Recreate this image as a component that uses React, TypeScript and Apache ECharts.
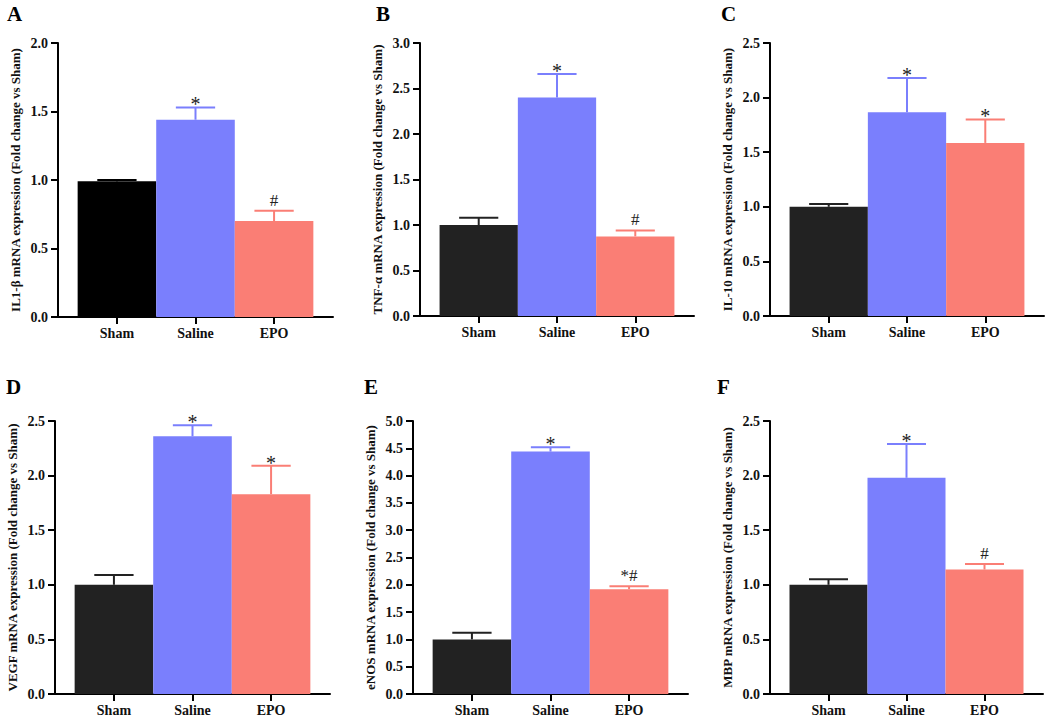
import { useEffect, useRef } from 'react';
import * as echarts from 'echarts';

// ---------- data ----------
const categories = ['Sham', 'Saline', 'EPO'];
const panelLetters = ['A', 'B', 'C', 'D', 'E', 'F'];
const yNames = [
  'IL1-β mRNA expression (Fold change vs Sham)',
  'TNF-α mRNA expression (Fold change vs Sham)',
  'IL-10 mRNA expression (Fold change vs Sham)',
  'VEGF mRNA expression (Fold change vs Sham)',
  'eNOS mRNA expression (Fold change vs Sham)',
  'MBP mRNA expression (Fold change vs Sham)',
];
const yMax = [2.0, 3.0, 2.5, 2.5, 5.0, 2.5];

const il1bMeans = [0.99, 1.44, 0.70];
const il1bErrs = [0.01, 0.09, 0.075];
const tnfMeans = [1.0, 2.4, 0.875];
const tnfErrs = [0.08, 0.26, 0.065];
const il10Means = [1.0, 1.865, 1.585];
const il10Errs = [0.025, 0.315, 0.215];
const vegfMeans = [1.0, 2.36, 1.83];
const vegfErrs = [0.09, 0.1, 0.26];
const enosMeans = [1.0, 4.44, 1.92];
const enosErrs = [0.12, 0.08, 0.055];
const mbpMeans = [1.0, 1.98, 1.14];
const mbpErrs = [0.05, 0.31, 0.05];

const il1bMarks = ['', '*', '#'];
const tnfMarks = ['', '*', '#'];
const il10Marks = ['', '*', '*'];
const vegfMarks = ['', '*', '*'];
const enosMarks = ['', '*', '*#'];
const mbpMarks = ['', '*', '#'];

const allMeans = [il1bMeans, tnfMeans, il10Means, vegfMeans, enosMeans, mbpMeans];
const allErrs = [il1bErrs, tnfErrs, il10Errs, vegfErrs, enosErrs, mbpErrs];
const allMarks = [il1bMarks, tnfMarks, il10Marks, vegfMarks, enosMarks, mbpMarks];

// ---------- layout / style ----------
const FONT = "'Liberation Serif', 'Times New Roman', serif";
const grids = [
  { left: 58, top: 43, width: 275, height: 274 },
  { left: 420, top: 43, width: 274, height: 273 },
  { left: 770, top: 43, width: 274, height: 273 },
  { left: 55, top: 421, width: 275, height: 273 },
  { left: 413, top: 421, width: 275, height: 273 },
  { left: 770, top: 421, width: 273, height: 273 },
];
const letterPos = [
  [7, 3], [376, 3], [721, 3],
  [6, 376], [364, 376], [717, 376],
];
const SALINE = '#7A7FFD';
const EPO = '#FA7E75';
const shamColors = ['#000000', '#222222', '#222222', '#222222', '#222222', '#222222'];

function buildOption() {
  const grid: any[] = [];
  const xAxis: any[] = [];
  const yAxis: any[] = [];
  const series: any[] = [];
  const graphic: any[] = [];

  for (let i = 0; i < 6; i++) {
    const g = grids[i];
    const colors = [shamColors[i], SALINE, EPO];
    grid.push({ left: g.left, top: g.top, width: g.width, height: g.height });
    xAxis.push({
      gridIndex: i,
      type: 'value',
      min: -0.75,
      max: 2.75,
      splitLine: { show: false },
      axisLine: { show: true, onZero: false, lineStyle: { color: '#000', width: 2 } },
      axisTick: { show: true, customValues: [0, 1, 2], length: 7, lineStyle: { color: '#000', width: 2 } },
      axisLabel: {
        customValues: [0, 1, 2],
        formatter: (v: number) => categories[Math.round(v)] ?? '',
        margin: 9,
        fontFamily: FONT,
        fontWeight: 'bold',
        fontSize: 14,
        color: '#111',
      },
    });
    yAxis.push({
      gridIndex: i,
      type: 'value',
      min: 0,
      max: yMax[i],
      interval: 0.5,
      splitLine: { show: false },
      axisLine: { show: true, onZero: false, lineStyle: { color: '#000', width: 2 } },
      axisTick: { show: true, length: 7, lineStyle: { color: '#000', width: 2 } },
      axisLabel: {
        formatter: (v: number) => v.toFixed(1),
        margin: 10,
        fontFamily: FONT,
        fontWeight: 'bold',
        fontSize: 14,
        color: '#111',
      },
      name: yNames[i],
      nameLocation: 'middle',
      nameGap: 36,
      nameTextStyle: { fontFamily: FONT, fontWeight: 'bold', fontSize: 13, color: '#111' },
    });
    const means = allMeans[i];
    const errs = allErrs[i];
    const marks = allMarks[i];
    series.push({
      type: 'bar',
      xAxisIndex: i,
      yAxisIndex: i,
      barWidth: g.width / 3.5,
      data: means.map((m, j) => ({ value: [j, m], itemStyle: { color: colors[j] } })),
      z: 2,
    });
    series.push({
      type: 'custom',
      xAxisIndex: i,
      yAxisIndex: i,
      z: 3,
      data: means.map((m, j) => [j, m, errs[j]]),
      renderItem: (params: any, api: any) => {
        const j = params.dataIndex;
        const x = api.value(0);
        const m = api.value(1);
        const e = api.value(2);
        const base = api.coord([x, m]);
        const top = api.coord([x, m + e]);
        const half = api.size([0.25, 0])[0];
        const c = colors[j];
        const mk = marks[j];
        const children: any[] = [
          { type: 'line', shape: { x1: base[0], y1: base[1], x2: top[0], y2: top[1] }, style: { stroke: c, lineWidth: 2 } },
          { type: 'line', shape: { x1: top[0] - half, y1: top[1], x2: top[0] + half, y2: top[1] }, style: { stroke: c, lineWidth: 2 } },
        ];
        if (mk) {
          const isStar = mk === '*';
          children.push({
            type: 'text',
            x: top[0],
            y: top[1] + (isStar ? 7 : -2),
            style: {
              text: mk,
              fill: '#222',
              fontFamily: FONT,
              fontSize: isStar ? 20 : 17,
              align: 'center',
              verticalAlign: 'bottom',
            },
          });
        }
        return { type: 'group', children };
      },
    });
    graphic.push({
      type: 'text',
      left: letterPos[i][0],
      top: letterPos[i][1],
      style: { text: panelLetters[i], fill: '#000', font: `bold 21px ${FONT}` },
    });
  }

  return { animation: false, backgroundColor: '#fff', grid, xAxis, yAxis, series, graphic };
}

export default function App() {
  const ref = useRef<HTMLDivElement>(null);
  useEffect(() => {
    const chart = echarts.init(ref.current!, null, { renderer: 'svg' });
    chart.setOption(buildOption() as any);
    return () => chart.dispose();
  }, []);
  return (
    <div
      ref={ref}
      style={{ position: 'fixed', left: 0, top: 0, width: 1050, height: 723, background: '#fff' }}
    />
  );
}
